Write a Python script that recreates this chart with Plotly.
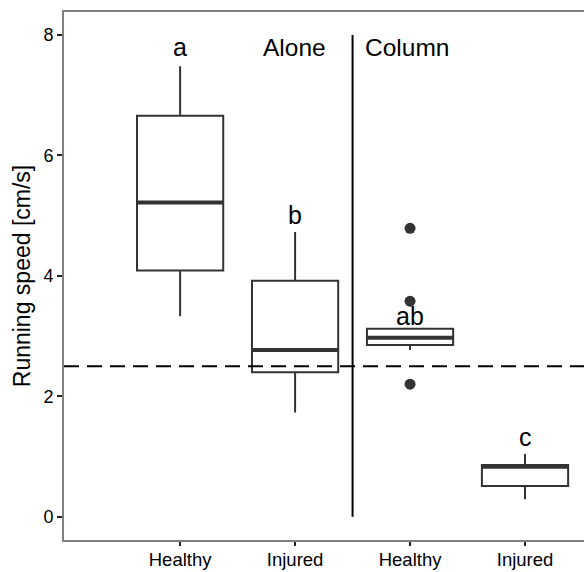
import plotly.graph_objects as go

# Running speed summary per group (cm/s)
groups = ["Healthy", "Injured", "Healthy", "Injured"]
positions = [1, 2, 3, 4]
lower_whisker = [3.33, 1.73, 2.77, 0.29]
q1 = [4.09, 2.40, 2.85, 0.51]
median = [5.22, 2.77, 2.97, 0.83]
q3 = [6.66, 3.92, 3.12, 0.86]
upper_whisker = [7.48, 4.73, 3.14, 1.04]

# Outlying observations (Column / Healthy)
outlier_x = [3, 3, 3]
outlier_y = [4.79, 3.58, 2.20]

# Significance letters
letters = ["a", "b", "ab", "c"]
letter_y = [7.53, 4.74, 3.07, 1.05]
header_y = 7.53

threshold = 2.5
divider_x = 2.5
box_width = 0.75

ink = "#333333"
font_family = "Liberation Sans, Arial, Helvetica, sans-serif"

fig = go.Figure()

fig.add_trace(go.Box(
    x=positions, q1=q1, median=median, q3=q3,
    lowerfence=lower_whisker, upperfence=upper_whisker,
    width=box_width, whiskerwidth=0, boxpoints=False,
    fillcolor="white", line=dict(color=ink, width=2),
    showlegend=False, hoverinfo="skip",
))

# Thick median bars
mx, my = [], []
for c, m in zip(positions, median):
    mx += [c - box_width / 2, c + box_width / 2, None]
    my += [m, m, None]
fig.add_trace(go.Scatter(
    x=mx, y=my, mode="lines", line=dict(color=ink, width=4),
    showlegend=False, hoverinfo="skip",
))

fig.add_trace(go.Scatter(
    x=outlier_x, y=outlier_y, mode="markers",
    marker=dict(color=ink, size=11),
    showlegend=False, hoverinfo="skip",
))

# Threshold and group divider
fig.add_shape(type="line", xref="paper", x0=0, x1=1, y0=threshold, y1=threshold,
              line=dict(color="black", width=2, dash="15px,8px"))
fig.add_shape(type="line", x0=divider_x, x1=divider_x, y0=0, y1=8,
              line=dict(color="black", width=2))

for c, t, y in zip(positions, letters, letter_y):
    fig.add_annotation(x=c, y=y, text=t, showarrow=False, yanchor="bottom",
                       font=dict(size=25, color="black", family=font_family))

fig.add_annotation(x=2.29, y=header_y, text="Alone", showarrow=False,
                   xanchor="right", yanchor="bottom",
                   font=dict(size=24.5, color="black", family=font_family))
fig.add_annotation(x=2.59, y=header_y, text="Column", showarrow=False,
                   xanchor="left", yanchor="bottom",
                   font=dict(size=24.5, color="black", family=font_family))

fig.update_layout(
    width=584, height=572,
    margin=dict(l=64, r=0, t=12, b=32),
    paper_bgcolor="white", plot_bgcolor="white",
    font=dict(family=font_family, color="black"),
)
fig.update_xaxes(
    range=[-0.01, 4.513], tickvals=positions, ticktext=groups,
    showgrid=False, zeroline=False,
    showline=True, mirror=True, linecolor="#808080", linewidth=2,
    ticks="outside", ticklen=4, tickwidth=2, tickcolor="#222222",
    tickfont=dict(size=18.5, color="black"), ticklabelstandoff=-2,
    automargin=False,
)
fig.update_yaxes(
    range=[-0.387, 8.382], tickvals=[0, 2, 4, 6, 8],
    showgrid=False, zeroline=False,
    showline=True, linecolor="#808080", linewidth=2,
    ticks="outside", ticklen=5, tickwidth=2, tickcolor="#222222",
    tickfont=dict(size=18, color="black"),
    title=dict(text="Running speed [cm/s]", font=dict(size=23, color="black"), standoff=6),
    automargin=False,
)

fig.write_html("out.html")
